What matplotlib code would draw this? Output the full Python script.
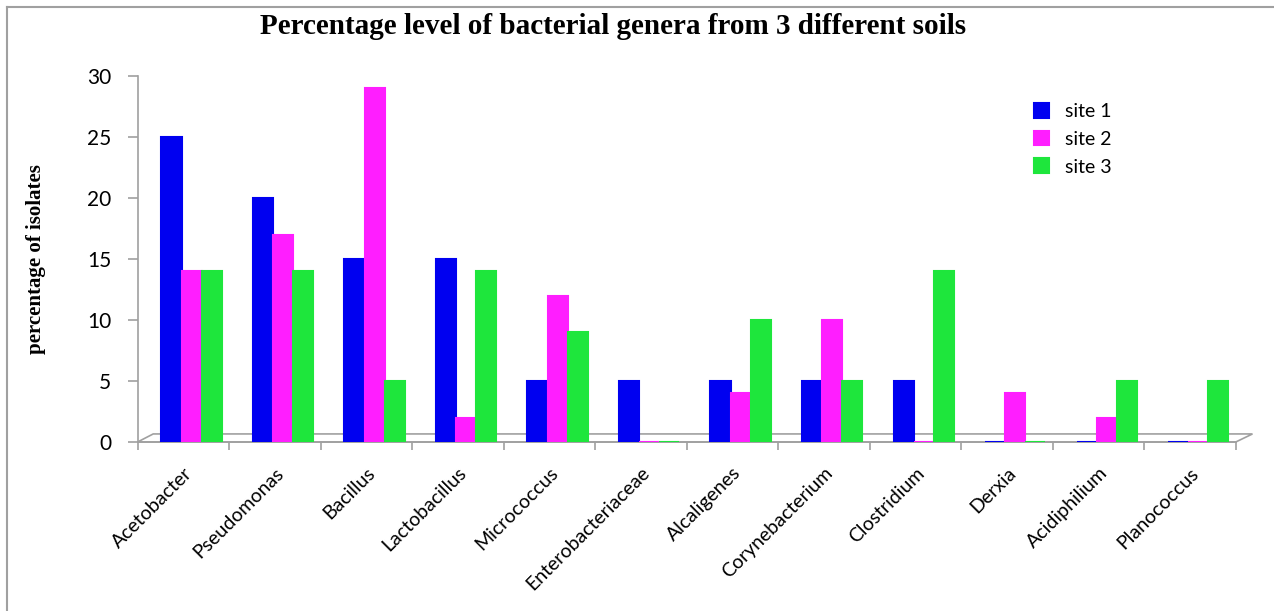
import numpy as np
import matplotlib
matplotlib.use('Agg')
import matplotlib.pyplot as plt
from matplotlib.lines import Line2D
from matplotlib.patches import Polygon

genera = ['Acetobacter', 'Pseudomonas', 'Bacillus', 'Lactobacillus', 'Micrococcus',
          'Enterobacteriaceae', 'Alcaligenes', 'Corynebacterium', 'Clostridium',
          'Derxia', 'Acidiphilium', 'Planococcus']
site1 = [25, 20, 15, 15, 5, 5, 5, 5, 5, 0, 0, 0]
site2 = [14, 17, 29, 2, 12, 0, 4, 10, 0, 4, 2, 0]
site3 = [14, 14, 5, 14, 9, 0, 10, 5, 14, 0, 5, 5]
series = ['site 1', 'site 2', 'site 3']
colors = ['#0000f0', '#ff1eff', '#1ee63c']

fig = plt.figure(figsize=(12.74, 6.11), dpi=100)
ax = fig.add_axes([0.108, 0.2766, 0.862, 0.599])

x = np.arange(len(genera))
w = 0.22
shift = 0.09
for i, (vals, c, name) in enumerate(zip([site1, site2, site3], colors, series)):
    ax.bar(x + (i - 1) * w + shift, vals, width=w, color=c, edgecolor=c,
           linewidth=1.5, label=name, zorder=3)

ax.set_xlim(-0.5, len(genera) - 0.5)
ax.set_ylim(0, 30)
ax.set_yticks(range(0, 31, 5))
ax.set_xticks(x)
ax.set_xticks(np.arange(-0.5, len(genera), 1), minor=True)

for s in ['top', 'right']:
    ax.spines[s].set_visible(False)
for s in ['left', 'bottom']:
    ax.spines[s].set_color('#a0a0a0')
    ax.spines[s].set_linewidth(1.2)

tick_font = 'Lato'
ax.tick_params(axis='y', length=7, width=1.2, color='#a0a0a0', pad=12,
               labelsize=15, labelcolor='black')
ax.tick_params(axis='x', which='major', length=0, pad=16)
ax.tick_params(axis='x', which='minor', length=6, width=1.2, color='#a0a0a0')
for lab in ax.get_yticklabels():
    lab.set_fontfamily(tick_font)
ax.set_xticklabels(genera, rotation=45, ha='right', rotation_mode='anchor',
                   fontsize=14, fontfamily=tick_font)

# floor of the 3D plot
floor = Polygon([(0, 0), (1.0, 0), (1.0152, 0.022), (0.0142, 0.022)],
                closed=True, fill=False, edgecolor='#a0a0a0', linewidth=1.2,
                transform=ax.transAxes, clip_on=False, zorder=1)
ax.add_patch(floor)

ax.set_ylabel('percentage of isolates', fontfamily='Liberation Serif',
              fontweight='bold', fontsize=15)
ax.yaxis.set_label_coords(-0.083, 0.5)

fig.suptitle('Percentage level of bacterial genera from 3 different soils',
             fontfamily='Liberation Serif', fontweight='bold', fontsize=21,
             x=0.481, y=0.978)

leg = ax.legend(loc='upper left', bbox_to_anchor=(0.8, 0.975), frameon=False,
                prop={'family': tick_font, 'size': 14}, handlelength=0.8,
                handleheight=0.8, labelspacing=0.55, handletextpad=0.8)

# outer chart border (left and top visible)
fig.add_artist(Line2D([0.0055, 0.0055], [0, 0.9885], color='#a0a0a0', lw=1.5))
fig.add_artist(Line2D([0.0055, 1.0], [0.9885, 0.9885], color='#a0a0a0', lw=1.5))

fig.savefig('out.png', dpi=100)
